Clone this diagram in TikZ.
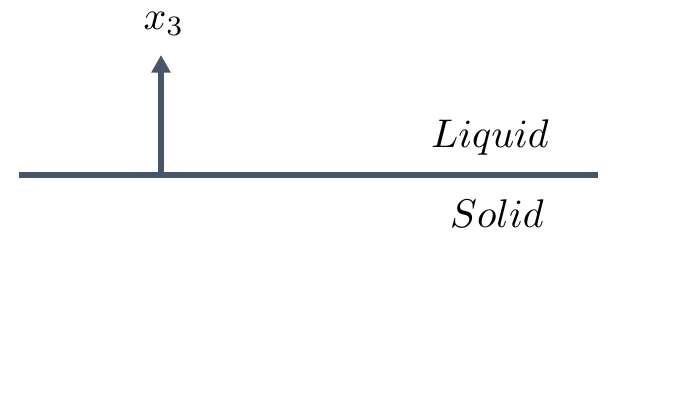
\documentclass[tikz,border=0pt]{standalone}
\usetikzlibrary{arrows.meta}
\definecolor{slate}{RGB}{70,85,106}
\tikzset{
  interface/.style={draw=slate, line width=1.5pt},
  axis/.style={draw=slate, line width=1.3pt, -{Triangle[width=4.6pt,length=4.4pt]}},
  phase/.style={inner sep=0pt}
}
\begin{document}
\begin{tikzpicture}[x=0.25pt,y=-0.25pt]
  \fill[white] (0,0) rectangle (695,412);
  \useasboundingbox (0,0) rectangle (695,412);
  % solid/liquid interface
  \coordinate (iL) at (19,175);
  \coordinate (iR) at (598,175);
  \draw[interface] (iL) -- (iR);
  % normal direction x_3
  \coordinate (base) at (161,175);
  \coordinate (tip) at (161,55);
  \draw[axis] (base) -- (tip);
  \node[phase] (xlab) at (164,24) {$x_3$};
  % phase labels
  \node[phase] (liq) at (490,137) {$Liquid$};
  \node[phase] (sol) at (497,214) {$Solid$};
\end{tikzpicture}
\end{document}
